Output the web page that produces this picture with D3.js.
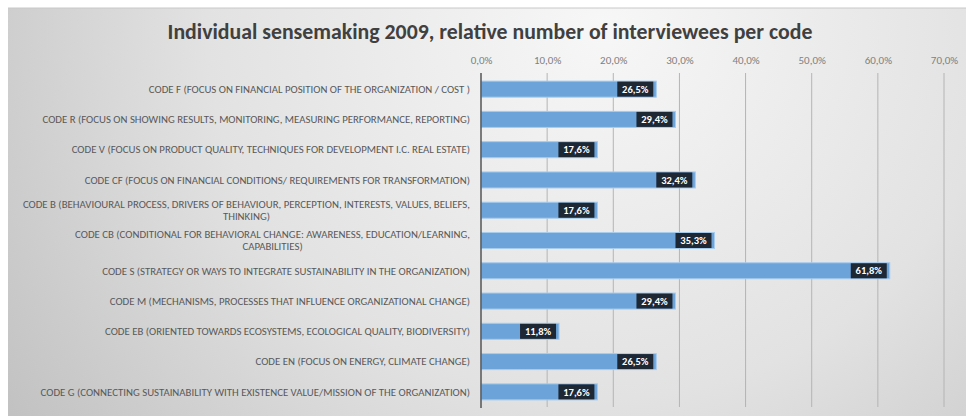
<!DOCTYPE html>
<html><head><meta charset="utf-8">
<script src="https://cdn.jsdelivr.net/npm/d3@7/dist/d3.min.js"></script>
<style>html,body{margin:0;padding:0;background:#fff;}svg{display:block;}</style>
</head><body>
<script>
const title = "Individual sensemaking 2009, relative number of interviewees per code";
const categories = [
  ["CODE F (FOCUS ON FINANCIAL POSITION OF THE ORGANIZATION / COST )"],
  ["CODE R (FOCUS ON SHOWING RESULTS, MONITORING, MEASURING PERFORMANCE, REPORTING)"],
  ["CODE V (FOCUS ON PRODUCT QUALITY, TECHNIQUES FOR DEVELOPMENT I.C. REAL ESTATE)"],
  ["CODE CF (FOCUS ON FINANCIAL CONDITIONS/ REQUIREMENTS FOR TRANSFORMATION)"],
  ["CODE B (BEHAVIOURAL PROCESS, DRIVERS OF BEHAVIOUR, PERCEPTION, INTERESTS, VALUES, BELIEFS,", "THINKING)"],
  ["CODE CB (CONDITIONAL FOR BEHAVIORAL CHANGE: AWARENESS, EDUCATION/LEARNING,", "CAPABILITIES)"],
  ["CODE S (STRATEGY OR WAYS TO INTEGRATE SUSTAINABILITY IN THE ORGANIZATION)"],
  ["CODE M (MECHANISMS, PROCESSES THAT INFLUENCE ORGANIZATIONAL CHANGE)"],
  ["CODE EB (ORIENTED TOWARDS ECOSYSTEMS, ECOLOGICAL QUALITY, BIODIVERSITY)"],
  ["CODE EN (FOCUS ON ENERGY,  CLIMATE CHANGE)"],
  ["CODE G (CONNECTING SUSTAINABILITY WITH EXISTENCE VALUE/MISSION OF THE ORGANIZATION)"]
];
const values = [26.5, 29.4, 17.6, 32.4, 17.6, 35.3, 61.8, 29.4, 11.8, 26.5, 17.6];
const tickValues = [0, 10, 20, 30, 40, 50, 60, 70];

const W = 966, H = 416;
const fmt = v => v.toFixed(1).replace(".", ",") + "%";
const font = "Carlito, Lato, 'Liberation Sans', sans-serif";
const labSize = 10.8;

const svg = d3.select("body").append("svg").attr("width", W).attr("height", H);
const defs = svg.append("defs");
const rg = defs.append("radialGradient").attr("id", "bg")
  .attr("cx", "62%").attr("cy", "5%").attr("r", "75%")
  .attr("gradientTransform", "translate(0.62,0.05) scale(1,2.2) translate(-0.62,-0.05)");
rg.append("stop").attr("offset", "0%").attr("stop-color", "#f7f7f7");
rg.append("stop").attr("offset", "55%").attr("stop-color", "#e2e2e2");
rg.append("stop").attr("offset", "100%").attr("stop-color", "#c2c2c2");

svg.append("rect").attr("x", 0).attr("y", 0).attr("width", W).attr("height", H).attr("fill", "#fff");
svg.append("rect").attr("x", 8).attr("y", 8).attr("width", W - 8).attr("height", H - 8).attr("fill", "url(#bg)");
svg.append("line").attr("x1", 8).attr("x2", W).attr("y1", 8).attr("y2", 8).attr("stroke", "#c8c8c8").attr("stroke-width", 1);

const x = d3.scaleLinear().domain([0, 70]).range([481, 944]);
const y = d3.scaleBand().domain(d3.range(categories.length)).range([74, 407]).paddingInner(0.47).paddingOuter(0.235);

svg.append("text").attr("x", 490).attr("y", 39).attr("text-anchor", "middle")
  .attr("font-family", font).attr("font-weight", "bold").attr("font-size", 21.8)
  .attr("fill", "#404040").text(title);

// gridlines
svg.append("g").selectAll("line").data(tickValues.slice(1)).join("line")
  .attr("x1", d => x(d)).attr("x2", d => x(d)).attr("y1", 73).attr("y2", 407)
  .attr("stroke", "#b4b4b4").attr("stroke-width", 1);

// top axis labels
const ax = svg.append("g").attr("transform", "translate(0,64)")
  .call(d3.axisTop(x).tickValues(tickValues).tickFormat(fmt).tickSize(0).tickPadding(0));
ax.select(".domain").remove();
ax.selectAll("text").attr("font-family", font).attr("font-size", 11).attr("fill", "#808080");

// bars
const bars = svg.append("g").selectAll("g").data(values).join("g");
bars.append("rect")
  .attr("x", x(0)).attr("y", (d, i) => y(i))
  .attr("width", d => x(d) - x(0)).attr("height", y.bandwidth())
  .attr("fill", "#6ca4da").attr("stroke", "#a8ccee").attr("stroke-width", 1);
bars.append("rect")
  .attr("x", d => x(d) - 39).attr("y", (d, i) => y(i) + 0.5)
  .attr("width", 36).attr("height", y.bandwidth() - 1)
  .attr("fill", "#1e2835");
bars.append("text")
  .attr("x", d => x(d) - 21).attr("y", (d, i) => y(i) + y.bandwidth() / 2)
  .attr("dy", "0.35em").attr("text-anchor", "middle")
  .attr("font-family", font).attr("font-weight", "bold").attr("font-size", 10.5)
  .attr("fill", "#ffffff").text(d => fmt(d));

// axis line
svg.append("line").attr("x1", x(0)).attr("x2", x(0)).attr("y1", 73).attr("y2", 408)
  .attr("stroke", "#555").attr("stroke-width", 1.5);

// category labels
const lab = svg.append("g");
categories.forEach((lines, i) => {
  const cy = y(i) + y.bandwidth() / 2;
  if (lines.length === 1) {
    lab.append("text").attr("x", 470).attr("y", cy).attr("dy", "0.35em")
      .attr("text-anchor", "end").attr("font-family", font).attr("font-size", labSize)
      .attr("fill", "#595959").text(lines[0]);
  } else {
    const t1 = lab.append("text").attr("x", 470).attr("y", cy - 6).attr("dy", "0.35em")
      .attr("text-anchor", "end").attr("font-family", font).attr("font-size", labSize)
      .attr("fill", "#595959").text(lines[0]);
    const w = t1.node().getComputedTextLength();
    lab.append("text").attr("x", 470 - w / 2).attr("y", cy + 6).attr("dy", "0.35em")
      .attr("text-anchor", "middle").attr("font-family", font).attr("font-size", labSize)
      .attr("fill", "#595959").text(lines[1]);
  }
});
</script>
</body></html>
